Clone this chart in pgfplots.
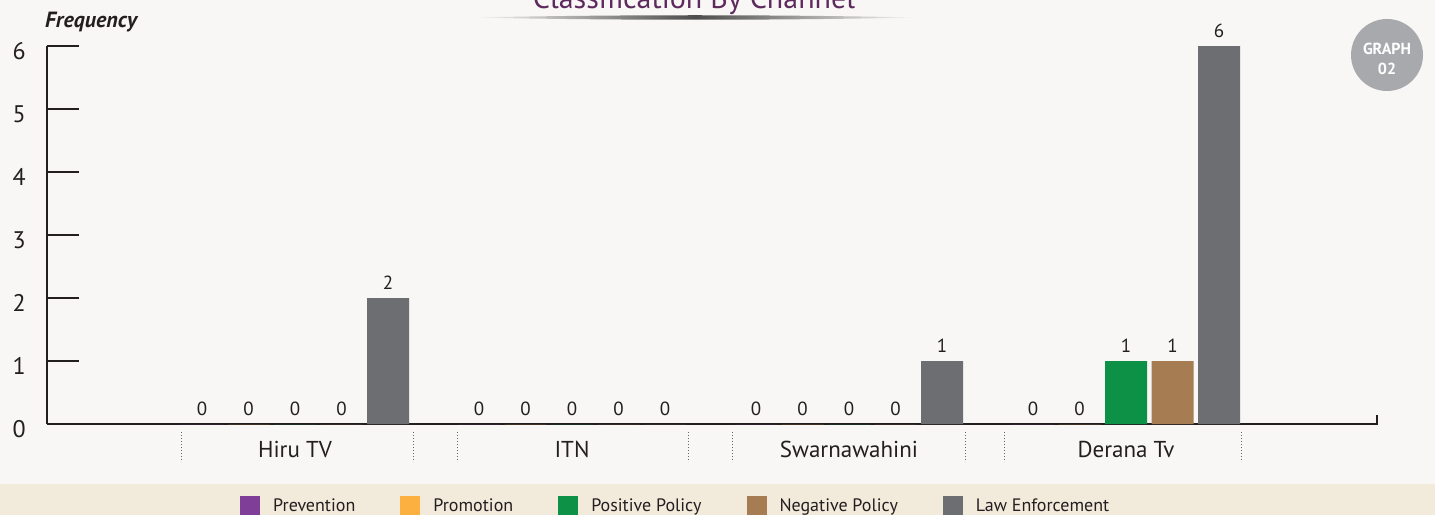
\documentclass[border=0pt]{standalone}
\usepackage{fontspec}
\setmainfont{PT Sans}
\usepackage{pgfplots}
\pgfplotsset{compat=1.18}
\definecolor{bgc}{HTML}{F8F7F5}
\definecolor{band}{HTML}{F2EADB}
\definecolor{cprev}{HTML}{7F3F98}
\definecolor{cprom}{HTML}{FBB040}
\definecolor{cpos}{HTML}{0D9146}
\definecolor{cneg}{HTML}{A67C52}
\definecolor{claw}{HTML}{6D6E71}
\definecolor{ctitle}{HTML}{5E2A5E}
\definecolor{cbadge}{HTML}{A7A9AC}
\definecolor{axc}{HTML}{231F20}
\pgfplotsset{sq/.style={legend image code/.code={\fill[##1] (0pt,-9pt) rectangle (20pt,10pt);}}}
\begin{document}
\begin{tikzpicture}
\useasboundingbox (0,0) rectangle (1435pt,515pt);
\fill[bgc] (0,0) rectangle (1435pt,515pt);
\fill[band] (0,0) rectangle (1435pt,31pt);
% title (cut off at top)
\node[anchor=base, text=ctitle, font=\fontsize{30}{34}\selectfont, inner sep=0] at (694pt,506.5pt) {Classification By Channel};
\shade[left color=bgc, right color=bgc, middle color=black!70] (473pt,497.5pt) .. controls (620pt,500.5pt) and (770pt,500.5pt) .. (917pt,497.5pt) .. controls (770pt,494.5pt) and (620pt,494.5pt) .. cycle;
% badge
\fill[cbadge] (1387pt,460pt) circle (36pt);
\node[text=white, font=\bfseries\fontsize{16}{20}\selectfont, align=center, inner sep=0] at (1387pt,456pt) {GRAPH\\02};
% y label
\node[anchor=base west, font=\bfseries\itshape\fontsize{22}{24}\selectfont, inner sep=0, text=axc] at (45pt,487pt) {Frequency};
\begin{axis}[
  at={(47pt,91pt)}, anchor=south west,
  scale only axis, width=1330pt, height=378pt,
  xmin=-0.8953, xmax=3.9061, ymin=0, ymax=6,
  axis x line=bottom, axis y line=left,
  axis line style={-, line width=2.6pt, draw=axc},
  ytick={0,1,2,3,4,5,6},
  major tick length=32pt, tick align=inside,
  ytick style={line width=2.6pt, draw=axc},
  xtick={0,1,2,3}, xticklabels={Hiru TV,ITN,Swarnawahini,Derana Tv},
  x tick style={draw=none},
  xticklabel style={anchor=base, yshift=-1pt, font=\fontsize{23}{26}\selectfont, text=axc, inner sep=0},
  yticklabel style={anchor=east, inner sep=0, xshift=-21pt, yshift=-5pt, font=\fontsize{24}{26}\selectfont, text=axc},
  /pgf/number format/assume math mode=true,
  ybar, bar width=42pt,
  clip=false,
  nodes near coords,
  every node near coord/.append style={font=\fontsize{19}{21}\selectfont, text=axc, inner sep=0, anchor=south, yshift=8pt},
  legend style={at={(axis description cs:0.1451,-0.2143)}, anchor=west, draw=none, fill=none, inner sep=0pt,
    font=\fontsize{18}{20}\selectfont, text=axc, nodes={inner sep=0pt},
    /tikz/every odd column/.append style={column sep=13pt},
    /tikz/every even column/.append style={column sep=45pt}},
  legend columns=-1,
]
\addplot[fill=cprev, draw=none, bar shift=-93pt, sq] coordinates {(0,0) (1,0) (2,0) (3,0)};
\addplot[fill=cprom, draw=none, bar shift=-46.5pt, sq] coordinates {(0,0) (1,0) (2,0) (3,0)};
\addplot[fill=cpos, draw=none, bar shift=0pt, sq] coordinates {(0,0) (1,0) (2,0) (3,1)};
\addplot[fill=cneg, draw=none, bar shift=46.5pt, sq] coordinates {(0,0) (1,0) (2,0) (3,1)};
\addplot[fill=claw, draw=none, bar shift=93pt, sq] coordinates {(0,2) (1,0) (2,1) (3,6)};
\legend{Prevention,Promotion,Positive Policy,Negative Policy,Law Enforcement}
% separators
\pgfplotsinvokeforeach{-0.408,0.426,0.585,1.422,1.581,2.419,2.563,3.415}{
  \draw[dotted, line width=1pt, black!60] ([yshift=-8pt]axis cs:#1,0) -- ([yshift=-38pt]axis cs:#1,0);
}
\draw[line width=2.6pt, axc] ([yshift=-1.3pt]axis cs:3.9061,0) -- ([yshift=9pt]axis cs:3.9061,0);
\end{axis}
\end{tikzpicture}
\end{document}
